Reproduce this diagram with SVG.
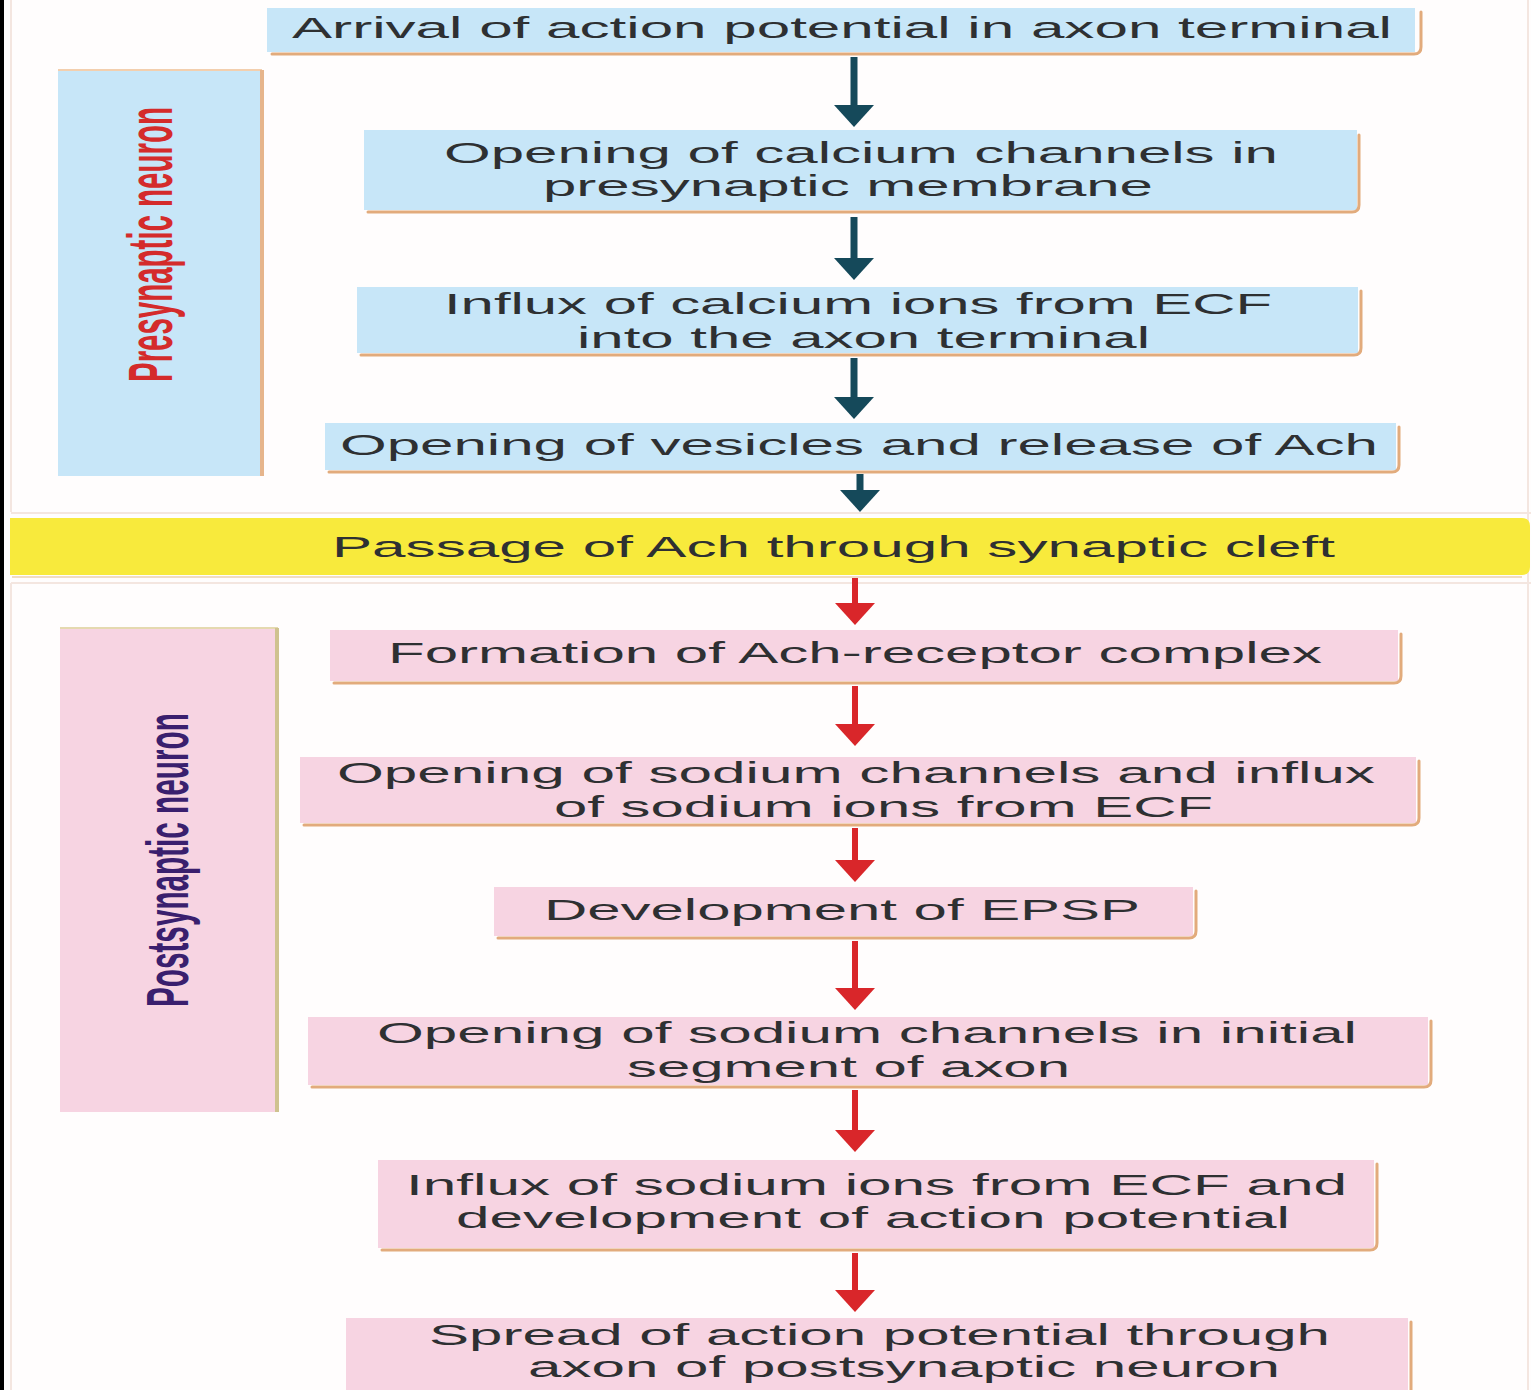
<svg xmlns="http://www.w3.org/2000/svg" width="1531" height="1390" viewBox="0 0 1531 1390">
  <defs>
    <style>
      .lbl { font-family: "Liberation Sans", Arial, sans-serif; font-size: 30px; fill: #2e3032; }
      .side { font-family: "Liberation Sans", Arial, sans-serif; font-weight: bold; }
      .blue { fill: #c7e6f8; }
      .pink { fill: #f7d4e2; }
      .edge { fill: none; stroke: #e2ab7c; stroke-width: 3; stroke-linecap: round; }
      .edge-olive { fill: none; stroke: #cfc28f; stroke-width: 4; }
      .frame { fill: none; stroke: #f4e6e0; stroke-width: 2; }
      .teal { stroke: #15495a; stroke-width: 7; }
      .red { stroke: #d9262a; stroke-width: 6; }
    </style>
    <marker id="headTeal" markerUnits="userSpaceOnUse" viewBox="0 0 22 40" refX="0" refY="20" markerWidth="22" markerHeight="40" orient="auto">
      <path d="M0,0 L22,20 L0,40 z" fill="#15495a"/>
    </marker>
    <marker id="headRed" markerUnits="userSpaceOnUse" viewBox="0 0 22 40" refX="0" refY="20" markerWidth="22" markerHeight="40" orient="auto">
      <path d="M0,0 L22,20 L0,40 z" fill="#d9262a"/>
    </marker>
  </defs>

  <!-- page background and panel frame -->
  <rect x="0" y="0" width="1531" height="1390" fill="#fffdfd"/>
  <rect x="0" y="0" width="4" height="1390" fill="#000"/>
  <line class="frame" x1="11" y1="0" x2="11" y2="512"/>
  <line class="frame" x1="11" y1="513" x2="1531" y2="513"/>
  <line class="frame" x1="11" y1="583" x2="1531" y2="583"/>
  <line class="frame" x1="11" y1="583" x2="11" y2="1390"/>
  <line class="frame" x1="1528" y1="0" x2="1528" y2="1390"/>

  <!-- side labels (condensed along their length) -->
  <g id="presynaptic-label">
    <rect class="blue" x="58" y="71" width="202" height="405"/>
    <line x1="58" y1="70" x2="262" y2="70" stroke="#f3cfae" stroke-width="2"/>
    <line x1="262" y1="70" x2="262" y2="476" stroke="#e6b58c" stroke-width="4"/>
    <text class="side" transform="translate(172,382) rotate(-90) scale(0.4675,1)" font-size="63" fill="#d42b2b" textLength="588" lengthAdjust="spacingAndGlyphs">Presynaptic neuron</text>
  </g>
  <g id="postsynaptic-label">
    <rect class="pink" x="60" y="629" width="216" height="483"/>
    <line x1="60" y1="628" x2="278" y2="628" stroke="#e5d9b0" stroke-width="2"/>
    <line x1="277" y1="628" x2="277" y2="1112" class="edge-olive"/>
    <text class="side" transform="translate(188,1007) rotate(-90) scale(0.4954,1)" font-size="60" fill="#3a1f6e" textLength="593" lengthAdjust="spacingAndGlyphs">Postsynaptic neuron</text>
  </g>

  <!-- process steps -->
  <g id="step-arrival">
    <rect class="blue" x="267" y="8" width="1148" height="44"/>
    <path class="edge" d="M272,54 H1414 Q1421,54 1421,47 V12"/>
    <text class="lbl" x="292" y="38" textLength="1100" lengthAdjust="spacingAndGlyphs">Arrival of action potential in axon terminal</text>
  </g>

  <g id="step-calcium-channels">
    <rect class="blue" x="364" y="130" width="993" height="80"/>
    <path class="edge" d="M368,212 H1352 Q1359,212 1359,205 V135"/>
    <text class="lbl" x="444" y="163" textLength="834" lengthAdjust="spacingAndGlyphs">Opening of calcium channels in</text>
    <text class="lbl" x="543" y="196" textLength="610" lengthAdjust="spacingAndGlyphs">presynaptic membrane</text>
  </g>

  <g id="step-calcium-influx">
    <rect class="blue" x="357" y="287" width="1001" height="66"/>
    <path class="edge" d="M361,355 H1354 Q1361,355 1361,348 V291"/>
    <text class="lbl" x="444" y="314" textLength="828" lengthAdjust="spacingAndGlyphs">Influx of calcium ions from ECF</text>
    <text class="lbl" x="577" y="348" textLength="573" lengthAdjust="spacingAndGlyphs">into the axon terminal</text>
  </g>

  <g id="step-vesicles">
    <rect class="blue" x="325" y="423" width="1071" height="47"/>
    <path class="edge" d="M329,472 H1392 Q1399,472 1399,465 V427"/>
    <text class="lbl" x="340" y="455" textLength="1038" lengthAdjust="spacingAndGlyphs">Opening of vesicles and release of Ach</text>
  </g>

  <g id="step-cleft">
    <path d="M10,518 H1522 Q1530,518 1530,526 V567 Q1530,575 1522,575 H10 z" fill="#f8ea3c"/>
    <line x1="12" y1="577" x2="1522" y2="577" stroke="#f1dcc2" stroke-width="2"/>
    <text class="lbl" x="332" y="557" textLength="1003" lengthAdjust="spacingAndGlyphs">Passage of Ach through synaptic cleft</text>
  </g>

  <g id="step-receptor-complex">
    <rect class="pink" x="330" y="630" width="1068" height="51"/>
    <path class="edge" d="M334,683 H1394 Q1401,683 1401,676 V634"/>
    <text class="lbl" x="388" y="663" textLength="934" lengthAdjust="spacingAndGlyphs">Formation of Ach-receptor complex</text>
  </g>

  <g id="step-sodium-channels">
    <rect class="pink" x="300" y="757" width="1116" height="66"/>
    <path class="edge" d="M304,825 H1412 Q1419,825 1419,818 V761"/>
    <text class="lbl" x="337" y="783" textLength="1038" lengthAdjust="spacingAndGlyphs">Opening of sodium channels and influx</text>
    <text class="lbl" x="554" y="817" textLength="659" lengthAdjust="spacingAndGlyphs">of sodium ions from ECF</text>
  </g>

  <g id="step-epsp">
    <rect class="pink" x="494" y="887" width="699" height="49"/>
    <path class="edge" d="M498,938 H1189 Q1196,938 1196,931 V891"/>
    <text class="lbl" x="544" y="920" textLength="596" lengthAdjust="spacingAndGlyphs">Development of EPSP</text>
  </g>

  <g id="step-initial-segment">
    <rect class="pink" x="308" y="1017" width="1120" height="68"/>
    <path class="edge" d="M312,1087 H1424 Q1431,1087 1431,1080 V1021"/>
    <text class="lbl" x="377" y="1043" textLength="980" lengthAdjust="spacingAndGlyphs">Opening of sodium channels in initial</text>
    <text class="lbl" x="627" y="1077" textLength="443" lengthAdjust="spacingAndGlyphs">segment of axon</text>
  </g>

  <g id="step-action-potential">
    <rect class="pink" x="378" y="1160" width="996" height="88"/>
    <path class="edge" d="M382,1250 H1370 Q1377,1250 1377,1243 V1164"/>
    <text class="lbl" x="406" y="1195" textLength="941" lengthAdjust="spacingAndGlyphs">Influx of sodium ions from ECF and</text>
    <text class="lbl" x="456" y="1228" textLength="834" lengthAdjust="spacingAndGlyphs">development of action potential</text>
  </g>

  <g id="step-spread">
    <rect class="pink" x="346" y="1318" width="1062" height="72"/>
    <path class="edge" d="M1411,1322 V1390"/>
    <text class="lbl" x="429" y="1345" textLength="901" lengthAdjust="spacingAndGlyphs">Spread of action potential through</text>
    <text class="lbl" x="528" y="1377" textLength="752" lengthAdjust="spacingAndGlyphs">axon of postsynaptic neuron</text>
  </g>

  <!-- connectors -->
  <g id="connectors">
    <line class="teal" x1="854" y1="57" x2="854" y2="105" marker-end="url(#headTeal)"/>
    <line class="teal" x1="854" y1="217" x2="854" y2="258" marker-end="url(#headTeal)"/>
    <line class="teal" x1="854" y1="358" x2="854" y2="397" marker-end="url(#headTeal)"/>
    <line class="teal" x1="860" y1="474" x2="860" y2="490" marker-end="url(#headTeal)"/>
    <line class="red" x1="855" y1="578" x2="855" y2="603" marker-end="url(#headRed)"/>
    <line class="red" x1="855" y1="686" x2="855" y2="724" marker-end="url(#headRed)"/>
    <line class="red" x1="855" y1="828" x2="855" y2="860" marker-end="url(#headRed)"/>
    <line class="red" x1="855" y1="941" x2="855" y2="988" marker-end="url(#headRed)"/>
    <line class="red" x1="855" y1="1090" x2="855" y2="1130" marker-end="url(#headRed)"/>
    <line class="red" x1="855" y1="1253" x2="855" y2="1290" marker-end="url(#headRed)"/>
  </g>
</svg>
